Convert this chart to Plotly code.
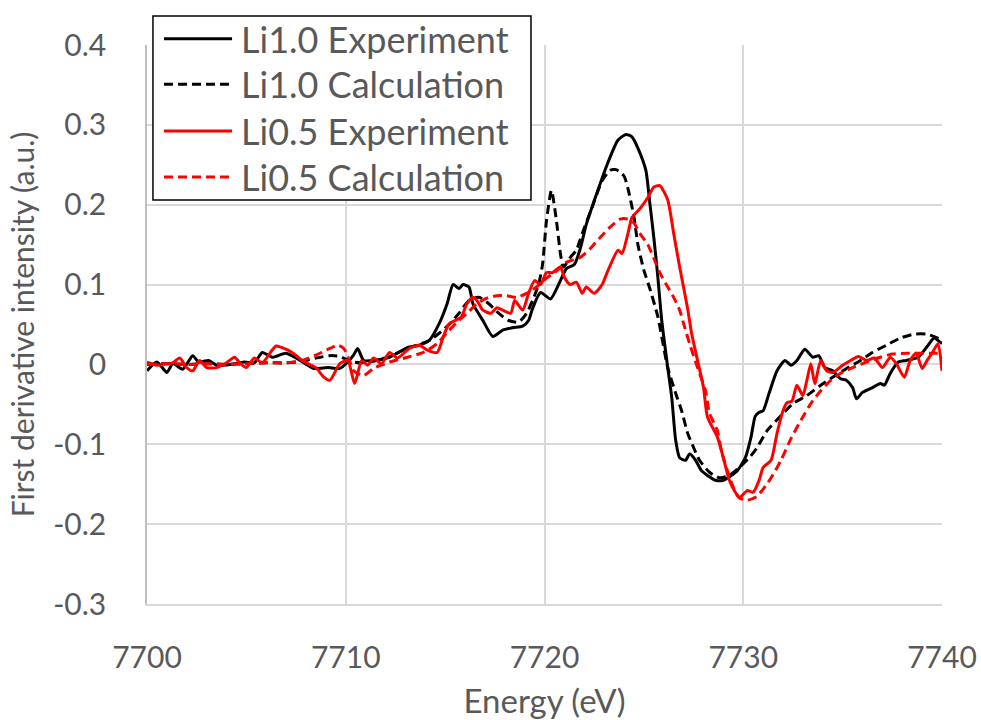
import plotly.graph_objects as go

# ---------------- data ----------------
li10_exp_e = [7700.0, 7700.5, 7701.0, 7701.3, 7701.8, 7702.3, 7702.6, 7703.1, 7703.5, 7704.2,
              7704.9, 7705.4, 7705.8, 7706.3, 7707.0, 7707.7, 7708.4, 7709.1, 7709.7, 7710.1,
              7710.4, 7710.6, 7710.9, 7711.4, 7712.2, 7713.1, 7713.7, 7714.2, 7714.7, 7715.1,
              7715.4, 7715.7, 7715.9, 7716.2, 7716.4, 7716.9, 7717.4, 7717.9, 7718.4, 7718.9,
              7719.2, 7719.4, 7719.8, 7720.3, 7720.8, 7721.1, 7721.5, 7721.8, 7722.1, 7722.6,
              7723.1, 7723.7, 7724.1, 7724.4, 7724.7, 7725.1, 7725.3, 7725.5, 7725.7, 7725.9,
              7726.2, 7726.4, 7726.6, 7726.8, 7727.1, 7727.3, 7727.6, 7727.9, 7728.2, 7728.6,
              7729.0, 7729.4, 7729.7, 7730.1, 7730.4, 7730.6, 7730.8, 7731.0, 7731.3, 7731.7,
              7732.1, 7732.4, 7732.7, 7733.1, 7733.5, 7733.8, 7734.1, 7734.5, 7734.9, 7735.2,
              7735.5, 7735.7, 7736.0, 7736.5, 7736.9, 7737.1, 7737.4, 7737.8, 7738.2, 7738.8,
              7739.3, 7739.6, 7739.9, 7740.0]
li10_exp_v = [-0.008, 0.003, -0.010, 0.001, -0.006, 0.011, 0.003, 0.005, -0.001, 0.000,
              0.003, 0.002, 0.015, 0.009, 0.014, 0.005, -0.005, -0.004, -0.005, 0.003,
              0.012, 0.020, 0.005, 0.005, 0.009, 0.021, 0.024, 0.030, 0.051, 0.076,
              0.100, 0.095, 0.100, 0.097, 0.076, 0.055, 0.035, 0.043, 0.046, 0.048,
              0.055, 0.070, 0.090, 0.082, 0.105, 0.120, 0.125, 0.145, 0.175, 0.212,
              0.247, 0.281, 0.288, 0.285, 0.271, 0.243, 0.202, 0.159, 0.110, 0.055,
              -0.004, -0.041, -0.095, -0.117, -0.120, -0.112, -0.120, -0.133, -0.139, -0.145,
              -0.145, -0.139, -0.133, -0.117, -0.090, -0.065, -0.060, -0.058, -0.036, -0.008,
              0.005, -0.001, 0.005, 0.019, 0.009, 0.011, -0.004, -0.008, -0.018, -0.020,
              -0.029, -0.043, -0.035, -0.029, -0.024, -0.026, -0.011, 0.003, 0.005, 0.009,
              0.024, 0.033, 0.028, 0.026]

li10_calc_e = [7700.0, 7701.0, 7702.0, 7703.0, 7704.0, 7705.0, 7706.0, 7707.0, 7707.8, 7708.5,
               7709.2, 7709.7, 7710.2, 7710.7, 7711.4, 7712.2, 7713.1, 7714.2, 7714.7, 7715.2,
               7715.7, 7716.2, 7716.7, 7717.2, 7717.7, 7718.2, 7718.7, 7719.1, 7719.4, 7719.7,
               7719.9, 7720.1, 7720.35, 7720.6, 7720.8, 7720.95, 7721.3, 7721.6, 7721.9, 7722.4,
               7722.9, 7723.3, 7723.6, 7724.0, 7724.2, 7724.5, 7724.7, 7725.0, 7725.3, 7725.7,
               7726.2, 7726.6, 7726.9, 7727.2, 7727.5, 7727.8, 7728.3, 7728.8, 7729.3, 7729.8,
               7730.3, 7730.7, 7731.2, 7731.9, 7732.5, 7733.2, 7733.9, 7734.5, 7735.2, 7735.9,
               7736.5, 7737.2, 7737.9, 7738.6, 7739.2, 7739.7, 7740.0]
li10_calc_v = [0.000, 0.001, 0.000, 0.001, 0.000, 0.001, 0.002, 0.002, 0.004, 0.008,
               0.011, 0.010, 0.004, 0.002, 0.004, 0.010, 0.020, 0.030, 0.039, 0.050,
               0.064, 0.080, 0.084, 0.076, 0.064, 0.055, 0.053, 0.064, 0.080, 0.100,
               0.125, 0.180, 0.218, 0.180, 0.139, 0.122, 0.134, 0.143, 0.164, 0.197,
               0.230, 0.243, 0.244, 0.236, 0.220, 0.185, 0.150, 0.118, 0.095, 0.060,
               -0.004, -0.036, -0.058, -0.086, -0.104, -0.120, -0.135, -0.142, -0.139, -0.129,
               -0.117, -0.104, -0.083, -0.064, -0.049, -0.039, -0.026, -0.016, -0.005, 0.005,
               0.015, 0.024, 0.033, 0.038, 0.038, 0.034, 0.030]

li05_exp_e = [7700.0, 7700.5, 7701.0, 7701.3, 7701.65, 7702.0, 7702.3, 7702.65, 7703.0, 7703.5,
              7704.0, 7704.4, 7704.7, 7705.0, 7705.4, 7705.8, 7706.3, 7706.5, 7706.8, 7707.3,
              7707.6, 7708.0, 7708.5, 7708.9, 7709.2, 7709.7, 7710.1, 7710.45, 7710.8, 7711.1,
              7711.4, 7711.8, 7712.2, 7712.6, 7713.2, 7713.7, 7714.1, 7714.6, 7714.9, 7715.2,
              7715.8, 7716.1, 7716.4, 7716.6, 7716.9, 7717.3, 7717.6, 7717.9, 7718.3, 7718.5,
              7718.9, 7719.2, 7719.5, 7719.8, 7720.1, 7720.4, 7720.8, 7721.0, 7721.3, 7721.6,
              7721.9, 7722.1, 7722.5, 7722.9, 7723.2, 7723.7, 7723.9, 7724.2, 7724.4, 7724.8,
              7725.2, 7725.5, 7725.8, 7726.2, 7726.5, 7726.8, 7727.2, 7727.4, 7727.7, 7728.0,
              7728.2, 7728.7, 7729.0, 7729.3, 7729.6, 7729.8, 7730.2, 7730.5, 7730.8, 7731.0,
              7731.4, 7731.7, 7732.0, 7732.2, 7732.45, 7732.7, 7733.0, 7733.2, 7733.4, 7733.6,
              7733.9, 7734.2, 7734.5, 7735.0, 7735.4, 7735.8, 7736.2, 7736.6, 7737.0, 7737.4,
              7737.7, 7738.1, 7738.4, 7738.7, 7739.0, 7739.25, 7739.5, 7739.8, 7740.0]
li05_exp_v = [0.003, -0.001, 0.001, 0.002, 0.008, -0.004, -0.008, 0.005, -0.004, -0.004,
              0.002, 0.009, 0.001, -0.004, 0.008, 0.002, 0.018, 0.023, 0.021, 0.015,
              0.009, 0.002, -0.004, -0.016, -0.020, 0.001, 0.005, -0.024, 0.005, -0.001,
              0.008, 0.001, 0.015, 0.008, 0.020, 0.024, 0.018, 0.015, 0.034, 0.051,
              0.059, 0.076, 0.084, 0.080, 0.068, 0.064, 0.071, 0.068, 0.064, 0.080,
              0.068, 0.089, 0.105, 0.100, 0.115, 0.115, 0.122, 0.109, 0.100, 0.103,
              0.089, 0.097, 0.089, 0.100, 0.118, 0.143, 0.139, 0.164, 0.184, 0.195,
              0.209, 0.222, 0.224, 0.206, 0.164, 0.122, 0.070, 0.039, 0.005, -0.029,
              -0.066, -0.091, -0.117, -0.145, -0.160, -0.167, -0.158, -0.160, -0.145, -0.129,
              -0.120, -0.086, -0.058, -0.048, -0.046, -0.026, -0.039, -0.020, 0.001, -0.024,
              0.005, -0.008, -0.010, -0.001, 0.005, 0.010, 0.005, 0.008, -0.004, 0.009,
              0.001, -0.016, 0.005, 0.014, -0.005, 0.005, 0.014, 0.026, -0.008]

li05_calc_e = [7700.0, 7701.0, 7702.0, 7703.0, 7704.0, 7705.0, 7706.0, 7707.0, 7707.8, 7708.7,
               7709.2, 7709.6, 7709.9, 7710.2, 7710.4, 7710.9, 7711.4, 7712.2, 7713.1, 7713.9,
               7714.6, 7715.1, 7715.6, 7716.1, 7716.6, 7717.1, 7717.6, 7718.1, 7718.6, 7719.1,
               7719.6, 7720.1, 7720.6, 7721.1, 7721.8, 7722.3, 7722.8, 7723.3, 7723.8, 7724.2,
               7724.5, 7724.8, 7725.2, 7725.5, 7725.8, 7726.2, 7726.5, 7726.8, 7727.0, 7727.3,
               7727.7, 7728.1, 7728.3, 7728.7, 7728.9, 7729.2, 7729.5, 7729.8, 7730.2, 7730.7,
               7731.4, 7731.9, 7732.4, 7732.9, 7733.4, 7733.9, 7734.4, 7734.9, 7735.5, 7736.2,
               7736.9, 7737.5, 7738.2, 7738.9, 7739.6, 7740.0]
li05_calc_v = [0.000, 0.001, 0.000, 0.001, 0.000, 0.001, 0.002, 0.002, 0.005, 0.014,
               0.020, 0.024, 0.020, 0.004, -0.008, -0.014, -0.005, 0.003, 0.009, 0.015,
               0.026, 0.040, 0.053, 0.064, 0.076, 0.083, 0.086, 0.086, 0.084, 0.089,
               0.097, 0.108, 0.117, 0.128, 0.134, 0.145, 0.159, 0.172, 0.182, 0.182,
               0.177, 0.164, 0.150, 0.133, 0.115, 0.097, 0.084, 0.068, 0.051, 0.026,
               -0.004, -0.033, -0.061, -0.083, -0.108, -0.133, -0.154, -0.167, -0.170, -0.165,
               -0.142, -0.120, -0.093, -0.070, -0.049, -0.033, -0.020, -0.011, -0.004, 0.003,
               0.009, 0.013, 0.014, 0.014, 0.014, 0.014]

series_names = ["Li1.0 Experiment", "Li1.0 Calculation", "Li0.5 Experiment", "Li0.5 Calculation"]
series_colors = ["#000000", "#000000", "#ff0000", "#ff0000"]
series_dash = ["solid", "9px,5px", "solid", "9px,5px"]

x_ticks = [7700, 7710, 7720, 7730, 7740]
y_ticks = [-0.3, -0.2, -0.1, 0, 0.1, 0.2, 0.3, 0.4]
y_tick_labels = ["-0.3", "-0.2", "-0.1", "0", "0.1", "0.2", "0.3", "0.4"]

FONT = "Lato"
TXT = "#595959"

fig = go.Figure()
data = [(li10_exp_e, li10_exp_v), (li10_calc_e, li10_calc_v),
        (li05_exp_e, li05_exp_v), (li05_calc_e, li05_calc_v)]
for (xs, ys), name, col, dash in zip(data, series_names, series_colors, series_dash):
    fig.add_trace(go.Scatter(x=xs, y=ys, mode="lines", name=name,
                             line=dict(color=col, width=3, dash=dash, shape="spline", smoothing=0.6),
                             showlegend=False))

# custom legend (Excel-like, long line samples)
box = dict(x0=0.0075, x1=0.483, y0=0.7227, y1=1.052)
fig.add_shape(type="rect", xref="paper", yref="paper", **box,
              line=dict(color="#000000", width=1.5), fillcolor="white", layer="above")
rows = [1.011, 0.930, 0.846, 0.764]
for name, col, dash, yy in zip(series_names, series_colors, series_dash, rows):
    fig.add_shape(type="line", xref="paper", yref="paper", x0=0.0214, x1=0.107, y0=yy, y1=yy,
                  line=dict(color=col, width=3, dash=dash), layer="above")
    fig.add_annotation(xref="paper", yref="paper", x=0.116, y=yy, text=name, showarrow=False,
                       xanchor="left", yanchor="middle", font=dict(family=FONT, size=36, color=TXT))

fig.update_layout(
    width=981, height=720,
    margin=dict(l=147, r=39, t=45, b=116, autoexpand=False),
    paper_bgcolor="white", plot_bgcolor="white",
    font=dict(family=FONT, color=TXT),
)
fig.update_xaxes(range=[7700, 7740], tickvals=x_ticks, ticktext=[str(v) for v in x_ticks],
                 showgrid=True, gridcolor="#d9d9d9", gridwidth=1.5,
                 showline=True, linecolor="#d9d9d9", linewidth=1.5, mirror=False,
                 zeroline=False, ticks="", ticklabelstandoff=26, automargin=False,
                 tickfont=dict(family=FONT, size=30, color=TXT),
                 title=dict(text="Energy (eV)", font=dict(family=FONT, size=33, color=TXT), standoff=22))
fig.update_yaxes(range=[-0.3, 0.4], tickvals=y_ticks, ticktext=y_tick_labels,
                 showgrid=True, gridcolor="#d9d9d9", gridwidth=1.5,
                 showline=True, linecolor="#bfbfbf", linewidth=1.5,
                 zeroline=False, ticks="", ticklabelstandoff=33, automargin=False,
                 tickfont=dict(family=FONT, size=30, color=TXT),
                 title=dict(text="First derivative intensity (a.u.)",
                            font=dict(family=FONT, size=30, color=TXT), standoff=10))

fig.write_html("out.html")
